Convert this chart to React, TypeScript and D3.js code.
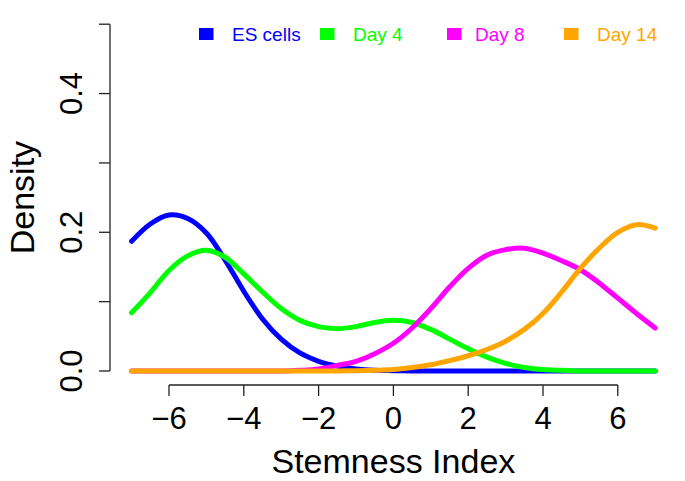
import React from 'react';
import * as d3 from 'd3';

// ---- data ----
const stemnessIndex = [-7, -6.5, -6, -5.5, -5, -4.5, -4, -3.5, -3, -2.5, -2, -1.5, -1, -0.5, 0, 0.5, 1, 1.5, 2, 2.5, 3, 3.5, 4, 4.5, 5, 5.5, 6, 6.5, 7];
const esCells = [0.187, 0.212, 0.225, 0.220, 0.199, 0.160, 0.115, 0.075, 0.046, 0.026, 0.014, 0.007, 0.003, 0.001, 0.0005, 0, 0, 0, 0, 0, 0, 0, 0, 0, 0, 0, 0, 0, 0];
const day4 = [0.084, 0.113, 0.145, 0.166, 0.174, 0.164, 0.140, 0.114, 0.090, 0.073, 0.064, 0.061, 0.064, 0.070, 0.073, 0.070, 0.060, 0.046, 0.032, 0.020, 0.011, 0.005, 0.002, 0.001, 0, 0, 0, 0, 0];
const day8 = [0, 0, 0, 0, 0, 0, 0, 0, 0, 0.001, 0.003, 0.008, 0.014, 0.025, 0.040, 0.062, 0.090, 0.121, 0.148, 0.167, 0.175, 0.177, 0.170, 0.159, 0.146, 0.127, 0.105, 0.083, 0.062];
const day14 = [0, 0, 0, 0, 0, 0, 0, 0, 0, 0, 0, 0, 0.0005, 0.001, 0.002, 0.005, 0.009, 0.015, 0.022, 0.031, 0.043, 0.060, 0.083, 0.114, 0.148, 0.177, 0.200, 0.211, 0.206];

const seriesNames = ['ES cells', 'Day 4', 'Day 8', 'Day 14'];
const seriesValues = [esCells, day4, day8, day14];
const seriesColors = ['#0000FF', '#00FF00', '#FF00FF', '#FFA500'];

const xTicks = [-6, -4, -2, 0, 2, 4, 6];
const xTickLabels = ['\u22126', '\u22124', '\u22122', '0', '2', '4', '6'];
const yTicks = [0, 0.1, 0.2, 0.3, 0.4, 0.5];
const yLabelTicks = [0, 0.2, 0.4];
const yTickLabels = ['0.0', '0.2', '0.4'];

const xTitle = 'Stemness Index';
const yTitle = 'Density';

// ---- layout ----
const W = 685;
const H = 481;
const FONT = '"Liberation Sans", Arial, Helvetica, sans-serif';
const legendSwatchX = [199, 320, 447, 564];
const legendTextX = [232, 353, 475, 597];

export default function App() {
  const x = d3.scaleLinear().domain([-7, 7]).range([131.6, 655.2]);
  const y = d3.scaleLinear().domain([0, 0.5]).range([371, 24.2]);
  const axisY = 385;
  const axisX = 110;
  const tickLen = 11;

  const line = d3
    .line<number>()
    .x((_, i) => x(stemnessIndex[i]))
    .y((d) => y(d))
    .curve(d3.curveCatmullRom.alpha(0.5));

  return (
    <svg
      width={W}
      height={H}
      viewBox={`0 0 ${W} ${H}`}
      style={{ position: 'fixed', left: 0, top: 0, background: '#fff' }}
      fontFamily={FONT}
    >
      <rect x={0} y={0} width={W} height={H} fill="#fff" />

      {/* curves */}
      {seriesValues.map((vals, i) => (
        <path
          key={seriesNames[i]}
          d={line(vals) || ''}
          fill="none"
          stroke={seriesColors[i]}
          strokeWidth={5}
          strokeLinecap="round"
          strokeLinejoin="round"
        />
      ))}

      {/* x axis */}
      <line x1={x(xTicks[0])} x2={x(xTicks[xTicks.length - 1])} y1={axisY} y2={axisY} stroke="#222" strokeWidth={1.3} />
      {xTicks.map((t, i) => (
        <g key={t}>
          <line x1={x(t)} x2={x(t)} y1={axisY} y2={axisY + tickLen} stroke="#222" strokeWidth={1.3} />
          <text x={x(t)} y={428.5} textAnchor="middle" fontSize={31} fill="#000">
            {xTickLabels[i]}
          </text>
        </g>
      ))}
      <text x={x(0)} y={473} textAnchor="middle" fontSize={34} fill="#000">
        {xTitle}
      </text>

      {/* y axis */}
      <line x1={axisX} x2={axisX} y1={y(0)} y2={y(0.5)} stroke="#222" strokeWidth={1.3} />
      {yTicks.map((t) => (
        <line key={t} x1={axisX - tickLen} x2={axisX} y1={y(t)} y2={y(t)} stroke="#222" strokeWidth={1.3} />
      ))}
      {yLabelTicks.map((t, i) => (
        <text
          key={t}
          transform={`translate(81.5, ${y(t)}) rotate(-90)`}
          textAnchor="middle"
          fontSize={31}
          fill="#000"
        >
          {yTickLabels[i]}
        </text>
      ))}
      <text transform={`translate(34, ${(y(0) + y(0.5)) / 2}) rotate(-90)`} textAnchor="middle" fontSize={34} fill="#000">
        {yTitle}
      </text>

      {/* legend */}
      {seriesNames.map((name, i) => (
        <g key={name}>
          <rect x={legendSwatchX[i]} y={28} width={14.5} height={12} fill={seriesColors[i]} />
          <text x={legendTextX[i]} y={41} fontSize={19} fill={seriesColors[i]}>
            {name}
          </text>
        </g>
      ))}
    </svg>
  );
}
